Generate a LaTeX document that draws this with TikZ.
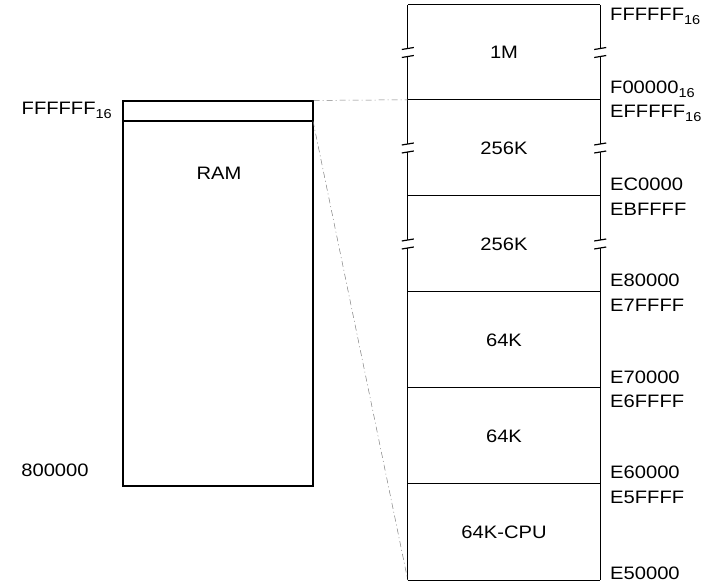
\documentclass[tikz,border=0pt]{standalone}
\usepackage{fontspec}
\setmainfont{Liberation Sans}[FakeStretch=1.12]
\usetikzlibrary{calc}
\newcommand{\hexsub}[1]{\raisebox{-0.4ex}{\fontsize{13}{13}\selectfont #1}}
\begin{document}
\begin{tikzpicture}[x=1pt,y=-1pt,
  every node/.style={font=\fontsize{18}{20}\selectfont, inner sep=0pt},
  memblk/.style={minimum width=192pt, minimum height=96pt, draw=none},
  addr/.style={anchor=west},
  edge/.style={line width=1.2pt},
  guide/.style={gray, line width=0.5pt, dash pattern=on 6pt off 3pt on 1pt off 3pt}]
\useasboundingbox (0,0) rectangle (706,583);
% right column blocks
\node[memblk, minimum height=95pt] (b1) at (504,52.5) {1M};
\node[memblk] (b2) at (504,148) {256K};
\node[memblk] (b3) at (504,244) {256K};
\node[memblk] (b4) at (504,340) {64K};
\node[memblk] (b5) at (504,436) {64K};
\node[memblk] (b6) at (504,532) {64K-CPU};
% horizontal lines
\foreach \n in {b1,b2,b3,b4,b5,b6} {
  \draw[edge] (\n.north west) -- (\n.north east);
}
\draw[edge] (b6.south west) -- (b6.south east);
% sides with breaks for b1..b3
\foreach \n in {b1,b2,b3} {
  \foreach \s in {west,east} {
    \draw[edge] (\n.north \s) -- ($(\n.\s)+(0,-4)$);
    \draw[edge] ($(\n.\s)+(0,4)$) -- (\n.south \s);
    \draw[edge] ($(\n.\s)+(-6,-3)$) -- ($(\n.\s)+(6,-5)$);
    \draw[edge] ($(\n.\s)+(-6,5)$) -- ($(\n.\s)+(6,3)$);
  }
}
\foreach \n in {b4,b5,b6} {
  \draw[edge] (\n.north west) -- (\n.south west);
  \draw[edge] (\n.north east) -- (\n.south east);
}
% right address labels
\node[addr] (a1) at (610,16) {FFFFFF\hexsub{16}};
\node[addr] (a2) at (610,89) {F00000\hexsub{16}};
\node[addr] (a3) at (610,113) {EFFFFF\hexsub{16}};
\node[addr] (a4) at (610,184) {EC0000};
\node[addr] (a5) at (610,209) {EBFFFF};
\node[addr] (a6) at (610,280) {E80000};
\node[addr] (a7) at (610,305) {E7FFFF};
\node[addr] (a8) at (610,377) {E70000};
\node[addr] (a9) at (610,401) {E6FFFF};
\node[addr] (a10) at (610,472) {E60000};
\node[addr] (a11) at (610,497) {E5FFFF};
\node[addr] (a12) at (610,573) {E50000};
% left RAM block
\node[draw, edge, minimum width=190pt, minimum height=385pt] (ram) at (218,293.5) {};
\coordinate (ramtopL) at (123,121);
\coordinate (ramtopR) at (313,121);
\draw[edge] (ramtopL) -- (ramtopR);
\node (ramlbl) at (219,173) {RAM};
\node[anchor=east] (l1) at (112,110) {FFFFFF\hexsub{16}};
\node (l2) at (55,470) {800000};
% guide lines
\draw[guide] (ram.north east) -- (b2.north west);
\draw[guide] (ramtopR) -- (b6.south west);
\end{tikzpicture}
\end{document}
